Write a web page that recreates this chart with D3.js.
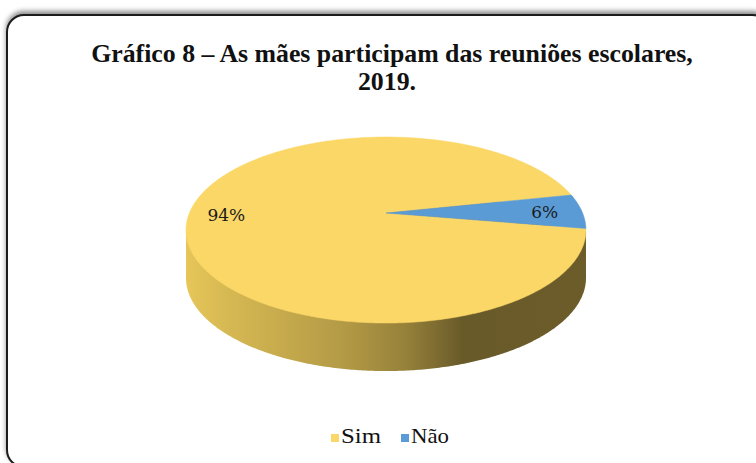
<!DOCTYPE html>
<html>
<head>
<meta charset="utf-8">
<script src="https://cdn.jsdelivr.net/npm/d3@7/dist/d3.min.js"></script>
<style>
html,body{margin:0;padding:0;background:#fff;}
svg{display:block;}
</style>
</head>
<body>
<script>
// ---- data ----
const categories = ["Sim", "Não"];
const values = [94, 6];
const valueLabels = ["94%", "6%"];
const colors = ["#FAD766", "#5B9BD5"];
const titleLines = ["Gráfico 8 – As mães participam das reuniões escolares,", "2019."];

const W = 756, H = 463;
const svg = d3.select("body").append("svg").attr("width", W).attr("height", H);
const defs = svg.append("defs");

// frame with upward shadow
const f = defs.append("filter").attr("id","sh").attr("x","-5%").attr("y","-10%").attr("width","110%").attr("height","120%");
f.append("feDropShadow").attr("dx",0).attr("dy",-3).attr("stdDeviation",2.5).attr("flood-color","#000").attr("flood-opacity",0.45);
svg.append("rect").attr("x",7).attr("y",15).attr("width",762).attr("height",452).attr("rx",17)
  .attr("fill","#fff").attr("stroke","#1c1c1c").attr("stroke-width",2).attr("filter","url(#sh)");

// title
const serif = "'Liberation Serif','Times New Roman',serif";
const title = svg.append("text").attr("font-family", serif)
  .attr("font-weight","bold").attr("font-size",25.8).attr("fill","#111").attr("text-anchor","middle");
title.append("tspan").attr("x",392).attr("y",62).text(titleLines[0]);
title.append("tspan").attr("x",387).attr("y",90).text(titleLines[1]);

// ---- 3D pie projection ----
const cx = 386, c0 = 213, A = 196.6, B = 89.9, k = 0.183, depth = 48;
function proj(a, r) {
  const u = r * Math.sin(a), v = -r * Math.cos(a), w = 1 - k * v;
  return [cx + A * u / w, c0 + B * v / w];
}
const Yc = c0 + k * B / (1 - k * k);
const halfW = A / Math.sqrt(1 - k * k);

const startA = 99.6 * Math.PI / 180;
const pie = d3.pie().sort(null).startAngle(startA).endAngle(startA + 2 * Math.PI);
const arcs = pie(values);
const line = d3.line();

function arcPoints(a0, a1, r) {
  const n = Math.max(4, Math.ceil((a1 - a0) / 0.01));
  return d3.range(n + 1).map(i => proj(a0 + (a1 - a0) * i / n, r));
}

// side gradient (front wall of first slice)
const side = defs.append("linearGradient").attr("id","side").attr("gradientUnits","userSpaceOnUse")
  .attr("x1", cx - halfW).attr("x2", cx + halfW).attr("y1",0).attr("y2",0);
const base = d3.color(colors[0]);
[[0, 0.92],[0.1, 0.86],[0.4, 0.71],[0.55, 0.6],[0.69, 0.42],[1, 0.43]].forEach(([o, m]) => {
  side.append("stop").attr("offset", o).attr("stop-color", d3.rgb(base.r*m, base.g*m, base.b*(m*0.95)));
});

const full = arcPoints(0, 2 * Math.PI, 1).map(p => [p[0], p[1] + depth]);
svg.append("path").attr("d", line(full) + "Z").attr("fill","url(#side)");
svg.append("rect").attr("x", cx - halfW).attr("y", Yc).attr("width", 2 * halfW).attr("height", depth).attr("fill","url(#side)");

// top face slices
svg.append("g").selectAll("path").data(arcs).join("path")
  .attr("d", d => line([proj(0,0)].concat(arcPoints(d.startAngle, d.endAngle, 1))) + "Z")
  .attr("fill", (d, i) => colors[i]).attr("stroke", (d, i) => colors[i]).attr("stroke-width", 0.5);

// labels
svg.append("g").selectAll("text").data(arcs).join("text")
  .attr("x", d => proj((d.startAngle + d.endAngle) / 2, 0.81)[0])
  .attr("y", d => proj((d.startAngle + d.endAngle) / 2, 0.81)[1] + 6.5)
  .attr("text-anchor","middle").attr("font-family","'DejaVu Serif',serif").attr("font-size",17)
  .attr("fill","#1a1a1a").text((d, i) => valueLabels[i]);

// legend
const lg = svg.append("g").selectAll("g").data(categories).join("g")
  .attr("transform", (d, i) => `translate(${331 + i * 70},0)`);
lg.append("rect").attr("x",0).attr("y",434).attr("width",8).attr("height",8).attr("fill",(d,i)=>colors[i]);
lg.append("text").attr("x",10).attr("y",443).attr("font-family", serif)
  .attr("font-size",22).attr("fill","#111")
  .attr("textLength", (d, i) => i === 0 ? 40 : 38).attr("lengthAdjust","spacingAndGlyphs")
  .text(d => d);
</script>
</body>
</html>
